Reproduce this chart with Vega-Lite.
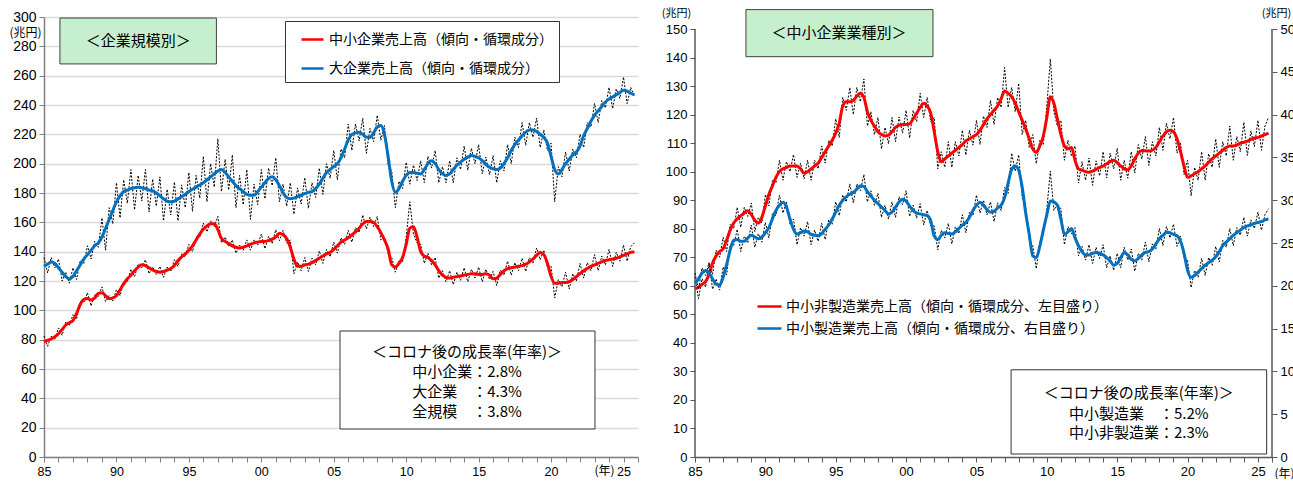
{
"$schema": "https://vega.github.io/schema/vega-lite/v6.json",
"background": "white",
"padding": {"left": 8, "top": 7, "right": 0, "bottom": 0},
"spacing": 20,
"config": {"view": {"stroke": null}, "font": "Liberation Sans", "axis": {"labelColor": "black", "titleColor": "black", "titleFontWeight": "normal", "tickSize": 5, "labelPadding": 3, "labelOverlap": false}},
"datasets": {"q": [
{"t":1985.0,"L":130,"Lr":136,"S":78.5,"Sr":82.5,"N":59,"Nr":63,"M":20.3,"Mr":21.5},
{"t":1985.25,"L":131.5,"Lr":125.5,"S":79.5,"Sr":75.5,"N":59.5,"Nr":55.5,"M":20.8,"Mr":19.6},
{"t":1985.5,"L":133,"Lr":136,"S":80.5,"Sr":82.5,"N":60.5,"Nr":62.5,"M":21.5,"Mr":22.1},
{"t":1985.75,"L":132,"Lr":129,"S":82,"Sr":80,"N":61.5,"Nr":59.5,"M":21.8,"Mr":21.2},
{"t":1986.0,"L":129,"Lr":135,"S":84,"Sr":88,"N":64,"Nr":68,"M":21.5,"Mr":22.7},
{"t":1986.25,"L":126,"Lr":120,"S":87,"Sr":83,"N":68,"Nr":64,"M":20.8,"Mr":19.6},
{"t":1986.5,"L":123,"Lr":126,"S":90,"Sr":92,"N":70.5,"Nr":72.5,"M":20.2,"Mr":20.8},
{"t":1986.75,"L":121.5,"Lr":118.5,"S":91.5,"Sr":89.5,"N":72,"Nr":70,"M":20.1,"Mr":19.5},
{"t":1987.0,"L":123,"Lr":129,"S":93,"Sr":97,"N":73,"Nr":77,"M":21,"Mr":22.2},
{"t":1987.25,"L":127,"Lr":121,"S":98,"Sr":94,"N":76,"Nr":72,"M":22.5,"Mr":21.3},
{"t":1987.5,"L":131,"Lr":134,"S":104,"Sr":106,"N":79.5,"Nr":81.5,"M":24.2,"Mr":24.8},
{"t":1987.75,"L":135,"Lr":132,"S":107.5,"Sr":105.5,"N":82,"Nr":80,"M":25.3,"Mr":24.7},
{"t":1988.0,"L":138,"Lr":144,"S":108,"Sr":112,"N":83.5,"Nr":87.5,"M":25.4,"Mr":26.6},
{"t":1988.25,"L":141,"Lr":135,"S":107,"Sr":103,"N":84.5,"Nr":80.5,"M":25.2,"Mr":24},
{"t":1988.5,"L":144,"Lr":147,"S":108.5,"Sr":110.5,"N":85.5,"Nr":87.5,"M":25.2,"Mr":25.8},
{"t":1988.75,"L":146,"Lr":143,"S":111.5,"Sr":109.5,"N":86.3,"Nr":84.3,"M":25.6,"Mr":25},
{"t":1989.0,"L":150,"Lr":163,"S":112,"Sr":116,"N":85,"Nr":89,"M":25.9,"Mr":27.1},
{"t":1989.25,"L":156,"Lr":141,"S":110,"Sr":106,"N":83,"Nr":79,"M":25.7,"Mr":24.5},
{"t":1989.5,"L":162,"Lr":170,"S":108,"Sr":110,"N":82,"Nr":84,"M":25.5,"Mr":26.1},
{"t":1989.75,"L":168,"Lr":159,"S":108.5,"Sr":106.5,"N":84,"Nr":82,"M":25.7,"Mr":25.1},
{"t":1990.0,"L":174,"Lr":187,"S":110,"Sr":114,"N":88,"Nr":92,"M":26.2,"Mr":27.4},
{"t":1990.25,"L":178,"Lr":163,"S":114,"Sr":110,"N":92,"Nr":88,"M":26.8,"Mr":25.6},
{"t":1990.5,"L":181,"Lr":189,"S":118,"Sr":120,"N":95,"Nr":97,"M":27.8,"Mr":28.4},
{"t":1990.75,"L":182,"Lr":173,"S":121.5,"Sr":119.5,"N":98,"Nr":96,"M":28.8,"Mr":28.2},
{"t":1991.0,"L":183,"Lr":196,"S":124,"Sr":128,"N":100,"Nr":104,"M":29.4,"Mr":30.6},
{"t":1991.25,"L":183.5,"Lr":168.5,"S":127,"Sr":123,"N":101,"Nr":97,"M":29.75,"Mr":28.5},
{"t":1991.5,"L":184,"Lr":192,"S":129.5,"Sr":131.5,"N":101.5,"Nr":103.5,"M":29.2,"Mr":29.8},
{"t":1991.75,"L":183.5,"Lr":174.5,"S":131,"Sr":129,"N":102,"Nr":100,"M":27.8,"Mr":27.2},
{"t":1992.0,"L":183,"Lr":196,"S":130.5,"Sr":134.5,"N":102,"Nr":106,"M":26.6,"Mr":27.8},
{"t":1992.25,"L":182,"Lr":167,"S":129,"Sr":125,"N":102,"Nr":98,"M":26.05,"Mr":24.8},
{"t":1992.5,"L":181.5,"Lr":189.5,"S":127.5,"Sr":129.5,"N":101,"Nr":103,"M":26.2,"Mr":26.8},
{"t":1992.75,"L":180,"Lr":171,"S":126.5,"Sr":124.5,"N":99.5,"Nr":97.5,"M":26.4,"Mr":25.8},
{"t":1993.0,"L":178,"Lr":191,"S":126,"Sr":130,"N":100,"Nr":104,"M":26.3,"Mr":27.5},
{"t":1993.25,"L":176,"Lr":161,"S":126.5,"Sr":122.5,"N":101,"Nr":97,"M":26,"Mr":24.8},
{"t":1993.5,"L":174.5,"Lr":182.5,"S":127.5,"Sr":129.5,"N":102,"Nr":104,"M":25.9,"Mr":26.5},
{"t":1993.75,"L":174,"Lr":165,"S":128.5,"Sr":126.5,"N":103,"Nr":101,"M":25.85,"Mr":25.2},
{"t":1994.0,"L":174.5,"Lr":187.5,"S":130.5,"Sr":134.5,"N":105,"Nr":109,"M":26.1,"Mr":27.3},
{"t":1994.25,"L":176,"Lr":161,"S":134,"Sr":130,"N":107,"Nr":103,"M":26.6,"Mr":25.4},
{"t":1994.5,"L":177.5,"Lr":185.5,"S":136.5,"Sr":138.5,"N":109,"Nr":111,"M":27.1,"Mr":27.7},
{"t":1994.75,"L":179,"Lr":170,"S":138.5,"Sr":136.5,"N":111,"Nr":109,"M":27.8,"Mr":27.2},
{"t":1995.0,"L":181,"Lr":194,"S":141,"Sr":145,"N":113.5,"Nr":118.5,"M":28.6,"Mr":29.8},
{"t":1995.25,"L":182.5,"Lr":167.5,"S":144,"Sr":140,"N":117,"Nr":112,"M":29.4,"Mr":28.2},
{"t":1995.5,"L":184,"Lr":192,"S":148,"Sr":150,"N":123,"Nr":126,"M":30,"Mr":30.6},
{"t":1995.75,"L":185.5,"Lr":176.5,"S":152,"Sr":150,"N":124.5,"Nr":121.5,"M":30.4,"Mr":29.8},
{"t":1996.0,"L":187,"Lr":205,"S":155.5,"Sr":159.5,"N":124.5,"Nr":129.5,"M":30.7,"Mr":31.9},
{"t":1996.25,"L":189,"Lr":174,"S":157.5,"Sr":153.5,"N":125,"Nr":120,"M":30.9,"Mr":29.7},
{"t":1996.5,"L":191,"Lr":200,"S":159,"Sr":161,"N":126.5,"Nr":129.5,"M":31.3,"Mr":31.9},
{"t":1996.75,"L":193,"Lr":184,"S":159,"Sr":157,"N":127.5,"Nr":124.5,"M":31.7,"Mr":31.1},
{"t":1997.0,"L":195,"Lr":217,"S":155,"Sr":164,"N":126,"Nr":132.5,"M":31.6,"Mr":33},
{"t":1997.25,"L":196,"Lr":181,"S":149,"Sr":146,"N":121,"Nr":116,"M":31,"Mr":29.8},
{"t":1997.5,"L":194,"Lr":203,"S":147,"Sr":150,"N":118,"Nr":121,"M":30.5,"Mr":31.1},
{"t":1997.75,"L":191,"Lr":182,"S":145.5,"Sr":143.5,"N":116,"Nr":113,"M":30,"Mr":29.4},
{"t":1998.0,"L":188,"Lr":206,"S":144,"Sr":148,"N":114,"Nr":119,"M":29.6,"Mr":30.8},
{"t":1998.25,"L":185,"Lr":170,"S":143,"Sr":139,"N":113,"Nr":108,"M":29.2,"Mr":28},
{"t":1998.5,"L":183,"Lr":192,"S":142.5,"Sr":144.5,"N":112.5,"Nr":115.5,"M":28.8,"Mr":29.4},
{"t":1998.75,"L":181,"Lr":172,"S":143,"Sr":141,"N":112.8,"Nr":109.8,"M":28.4,"Mr":27.8},
{"t":1999.0,"L":179,"Lr":196,"S":144,"Sr":148,"N":114,"Nr":119,"M":28.6,"Mr":29.8},
{"t":1999.25,"L":178.5,"Lr":162,"S":145,"Sr":141,"N":115.5,"Nr":110.5,"M":29.2,"Mr":28},
{"t":1999.5,"L":178.5,"Lr":186,"S":146,"Sr":148,"N":116.2,"Nr":119.2,"M":29.8,"Mr":30.4},
{"t":1999.75,"L":181,"Lr":172,"S":146.5,"Sr":144.5,"N":116.5,"Nr":113.5,"M":30.1,"Mr":29.5},
{"t":2000.0,"L":184,"Lr":196,"S":147,"Sr":152,"N":116.5,"Nr":121.5,"M":29.9,"Mr":31.1},
{"t":2000.25,"L":187,"Lr":176,"S":147,"Sr":142,"N":116.8,"Nr":111.8,"M":29.3,"Mr":28.1},
{"t":2000.5,"L":190,"Lr":197,"S":147.5,"Sr":150.5,"N":118.5,"Nr":121.5,"M":28.8,"Mr":29.4},
{"t":2000.75,"L":191,"Lr":185,"S":148.5,"Sr":145.5,"N":120.5,"Nr":117.5,"M":28.5,"Mr":27.9},
{"t":2001.0,"L":189,"Lr":204,"S":150,"Sr":155,"N":122.5,"Nr":127.5,"M":28.4,"Mr":29.6},
{"t":2001.25,"L":185,"Lr":174,"S":152.5,"Sr":147.5,"N":124,"Nr":119,"M":28.3,"Mr":27.1},
{"t":2001.5,"L":180,"Lr":186,"S":151.5,"Sr":154.5,"N":123,"Nr":126,"M":28.2,"Mr":28.8},
{"t":2001.75,"L":177,"Lr":171,"S":149,"Sr":146,"N":120.5,"Nr":117.5,"M":27.6,"Mr":27},
{"t":2002.0,"L":176,"Lr":187,"S":143,"Sr":148,"N":114,"Nr":119,"M":25.8,"Mr":27},
{"t":2002.25,"L":176.5,"Lr":165.5,"S":135,"Sr":125,"N":107,"Nr":101,"M":25.4,"Mr":24.2},
{"t":2002.5,"L":177.5,"Lr":183.5,"S":130,"Sr":133,"N":103.5,"Nr":107,"M":25.9,"Mr":26.5},
{"t":2002.75,"L":178.5,"Lr":172.5,"S":130,"Sr":127,"N":104.5,"Nr":101.5,"M":26.2,"Mr":25.6},
{"t":2003.0,"L":179.5,"Lr":190.5,"S":131,"Sr":136,"N":105.5,"Nr":110.5,"M":26.1,"Mr":27.3},
{"t":2003.25,"L":180.5,"Lr":169.5,"S":131.5,"Sr":126.5,"N":106.5,"Nr":101.5,"M":26.05,"Mr":24.9},
{"t":2003.5,"L":181,"Lr":187,"S":132.5,"Sr":135.5,"N":107.5,"Nr":110.5,"M":26.3,"Mr":26.9},
{"t":2003.75,"L":183,"Lr":177,"S":134,"Sr":131,"N":108.5,"Nr":105.5,"M":26.7,"Mr":26.1},
{"t":2004.0,"L":186,"Lr":197,"S":135.5,"Sr":140.5,"N":109.5,"Nr":114.5,"M":27.1,"Mr":28.3},
{"t":2004.25,"L":190,"Lr":179,"S":137,"Sr":132,"N":110.8,"Nr":105.8,"M":27.4,"Mr":26.2},
{"t":2004.5,"L":194,"Lr":200,"S":138.5,"Sr":141.5,"N":111.5,"Nr":114.5,"M":28,"Mr":28.6},
{"t":2004.75,"L":196,"Lr":190,"S":139.5,"Sr":136.5,"N":112.3,"Nr":109.3,"M":28.8,"Mr":28.2},
{"t":2005.0,"L":198,"Lr":209,"S":141.5,"Sr":146.5,"N":113,"Nr":118,"M":29.4,"Mr":30.6},
{"t":2005.25,"L":200,"Lr":189,"S":144,"Sr":139,"N":114.5,"Nr":109.5,"M":29.75,"Mr":28.5},
{"t":2005.5,"L":204,"Lr":210,"S":146.5,"Sr":149.5,"N":116.5,"Nr":119.5,"M":29.4,"Mr":30},
{"t":2005.75,"L":210,"Lr":204,"S":148,"Sr":145,"N":118.5,"Nr":115.5,"M":28.9,"Mr":28.3},
{"t":2006.0,"L":216,"Lr":227,"S":149.5,"Sr":154.5,"N":120,"Nr":125,"M":28.6,"Mr":29.8},
{"t":2006.25,"L":220,"Lr":209,"S":151.5,"Sr":146.5,"N":121.5,"Nr":116.5,"M":28.7,"Mr":27.5},
{"t":2006.5,"L":221,"Lr":227,"S":153.5,"Sr":156.5,"N":123,"Nr":126,"M":29.1,"Mr":29.7},
{"t":2006.75,"L":221.5,"Lr":215.5,"S":156,"Sr":153,"N":125.5,"Nr":122.5,"M":29.4,"Mr":28.8},
{"t":2007.0,"L":220,"Lr":231,"S":159,"Sr":165,"N":128.3,"Nr":136.5,"M":30.3,"Mr":31.5},
{"t":2007.25,"L":218,"Lr":207,"S":160.5,"Sr":155.5,"N":127.5,"Nr":122.5,"M":32,"Mr":30.8},
{"t":2007.5,"L":218,"Lr":224,"S":160.5,"Sr":163.5,"N":126.3,"Nr":129.5,"M":33.6,"Mr":35.5},
{"t":2007.75,"L":221,"Lr":215,"S":160,"Sr":157,"N":124,"Nr":121,"M":34,"Mr":33.4},
{"t":2008.0,"L":225,"Lr":233,"S":157,"Sr":164,"N":121,"Nr":131,"M":33.5,"Mr":35.3},
{"t":2008.25,"L":226,"Lr":216,"S":153,"Sr":148,"N":118,"Nr":113,"M":31.5,"Mr":30.3},
{"t":2008.5,"L":220,"Lr":226,"S":148,"Sr":150,"N":115,"Nr":118,"M":28.5,"Mr":29.1},
{"t":2008.75,"L":205,"Lr":199,"S":142,"Sr":139,"N":111.5,"Nr":108.5,"M":26,"Mr":25.4},
{"t":2009.0,"L":188,"Lr":195,"S":131,"Sr":136,"N":108,"Nr":113,"M":23.5,"Mr":24.7},
{"t":2009.25,"L":180.5,"Lr":170,"S":129.5,"Sr":126,"N":106.8,"Nr":102.8,"M":23.3,"Mr":22},
{"t":2009.5,"L":183,"Lr":188,"S":132,"Sr":134,"N":109,"Nr":111,"M":24.6,"Mr":25.2},
{"t":2009.75,"L":188,"Lr":183,"S":136,"Sr":133,"N":112.5,"Nr":109.5,"M":26.5,"Mr":25.9},
{"t":2010.0,"L":192,"Lr":201,"S":145,"Sr":150,"N":119,"Nr":123,"M":28.3,"Mr":29},
{"t":2010.25,"L":194,"Lr":186,"S":156,"Sr":174,"N":126.3,"Nr":139.5,"M":29.9,"Mr":33.4},
{"t":2010.5,"L":194,"Lr":199,"S":157,"Sr":152,"N":124,"Nr":121,"M":29.8,"Mr":28.8},
{"t":2010.75,"L":193.5,"Lr":188.5,"S":150,"Sr":146,"N":118.5,"Nr":116,"M":29.4,"Mr":29.6},
{"t":2011.0,"L":193,"Lr":202,"S":140,"Sr":145,"N":113,"Nr":118,"M":27.8,"Mr":29},
{"t":2011.25,"L":196,"Lr":187,"S":137,"Sr":132,"N":109,"Nr":104,"M":26,"Mr":24.8},
{"t":2011.5,"L":200,"Lr":205,"S":136,"Sr":139,"N":108,"Nr":111,"M":26.3,"Mr":26.9},
{"t":2011.75,"L":202,"Lr":197,"S":134,"Sr":131,"N":108.5,"Nr":105.5,"M":26.7,"Mr":26.1},
{"t":2012.0,"L":200,"Lr":209,"S":131,"Sr":136,"N":104,"Nr":109,"M":25.6,"Mr":26.8},
{"t":2012.25,"L":196,"Lr":187,"S":127,"Sr":122,"N":101,"Nr":96,"M":24.7,"Mr":23.5},
{"t":2012.5,"L":193,"Lr":198,"S":124,"Sr":127,"N":100.5,"Nr":103.5,"M":24,"Mr":24.6},
{"t":2012.75,"L":192,"Lr":187,"S":122.5,"Sr":119.5,"N":100,"Nr":97,"M":23.6,"Mr":23},
{"t":2013.0,"L":193,"Lr":202,"S":122,"Sr":127,"N":99.8,"Nr":104.8,"M":23.6,"Mr":24.8},
{"t":2013.25,"L":196,"Lr":187,"S":122.5,"Sr":117.5,"N":100.2,"Nr":95.2,"M":23.8,"Mr":22.6},
{"t":2013.5,"L":199,"Lr":204,"S":123,"Sr":126,"N":100.8,"Nr":103.8,"M":23.9,"Mr":24.5},
{"t":2013.75,"L":201,"Lr":196,"S":123.5,"Sr":120.5,"N":101.5,"Nr":98.5,"M":23.8,"Mr":23.2},
{"t":2014.0,"L":203,"Lr":212,"S":124,"Sr":129,"N":102,"Nr":107,"M":23.6,"Mr":24.8},
{"t":2014.25,"L":204.5,"Lr":195.5,"S":124.5,"Sr":119.5,"N":102.8,"Nr":97.8,"M":23.3,"Mr":22.1},
{"t":2014.5,"L":205.5,"Lr":210.5,"S":125,"Sr":128,"N":103.5,"Nr":106.5,"M":22.9,"Mr":23.5},
{"t":2014.75,"L":205,"Lr":200,"S":125,"Sr":122,"N":104,"Nr":101,"M":22.4,"Mr":21.8},
{"t":2015.0,"L":204,"Lr":213,"S":124.5,"Sr":129.5,"N":103.2,"Nr":108.2,"M":22.6,"Mr":23.8},
{"t":2015.25,"L":202,"Lr":193,"S":124.5,"Sr":119.5,"N":102,"Nr":97,"M":23.3,"Mr":22.1},
{"t":2015.5,"L":199.5,"Lr":204.5,"S":125,"Sr":128,"N":101,"Nr":104,"M":23.9,"Mr":24.5},
{"t":2015.75,"L":197.5,"Lr":192.5,"S":124,"Sr":121,"N":100.7,"Nr":97.7,"M":23.6,"Mr":23},
{"t":2016.0,"L":196.5,"Lr":205.5,"S":121.5,"Sr":126.5,"N":102,"Nr":107,"M":23.1,"Mr":24.3},
{"t":2016.25,"L":196,"Lr":187,"S":122,"Sr":117,"N":104.5,"Nr":99.5,"M":22.9,"Mr":21.7},
{"t":2016.5,"L":197,"Lr":202,"S":124.5,"Sr":127.5,"N":106.5,"Nr":109.5,"M":23.2,"Mr":23.8},
{"t":2016.75,"L":200,"Lr":195,"S":127,"Sr":124,"N":107.4,"Nr":104.4,"M":23.6,"Mr":23},
{"t":2017.0,"L":204,"Lr":213,"S":128.5,"Sr":133.5,"N":107.3,"Nr":112.3,"M":23.9,"Mr":25.1},
{"t":2017.25,"L":209,"Lr":200,"S":129,"Sr":124,"N":107.2,"Nr":102.2,"M":24,"Mr":22.8},
{"t":2017.5,"L":213,"Lr":218,"S":129.5,"Sr":132.5,"N":107.5,"Nr":110.5,"M":24.3,"Mr":24.9},
{"t":2017.75,"L":216,"Lr":211,"S":130,"Sr":127,"N":108.5,"Nr":105.5,"M":24.9,"Mr":24.3},
{"t":2018.0,"L":219,"Lr":228,"S":130.5,"Sr":135.5,"N":110.5,"Nr":115.5,"M":25.5,"Mr":26.7},
{"t":2018.25,"L":221.5,"Lr":212.5,"S":131.5,"Sr":126.5,"N":112.5,"Nr":107.5,"M":25.9,"Mr":24.7},
{"t":2018.5,"L":223,"Lr":228,"S":133,"Sr":136,"N":114,"Nr":117,"M":26.25,"Mr":26.9},
{"t":2018.75,"L":223,"Lr":218,"S":135,"Sr":132,"N":114.5,"Nr":111.5,"M":26.2,"Mr":25.6},
{"t":2019.0,"L":222,"Lr":231,"S":137.5,"Sr":142.5,"N":114,"Nr":119,"M":26,"Mr":27.2},
{"t":2019.25,"L":220,"Lr":211,"S":139.5,"Sr":134.5,"N":111.5,"Nr":106.5,"M":25.85,"Mr":24.6},
{"t":2019.5,"L":218,"Lr":223,"S":138,"Sr":141,"N":107,"Nr":110,"M":25.2,"Mr":25.8},
{"t":2019.75,"L":214,"Lr":209,"S":132,"Sr":129,"N":102,"Nr":99,"M":23.8,"Mr":23.2},
{"t":2020.0,"L":205,"Lr":214,"S":123,"Sr":130,"N":98,"Nr":104,"M":21.8,"Mr":23},
{"t":2020.25,"L":196,"Lr":174,"S":118.5,"Sr":108.5,"N":98.5,"Nr":91.5,"M":21,"Mr":19.8},
{"t":2020.5,"L":193,"Lr":198,"S":118.5,"Sr":121,"N":99.3,"Nr":101.5,"M":21.2,"Mr":21.8},
{"t":2020.75,"L":196,"Lr":191,"S":119,"Sr":116,"N":100,"Nr":97,"M":21.6,"Mr":21},
{"t":2021.0,"L":200,"Lr":208,"S":119,"Sr":126,"N":101,"Nr":107,"M":22,"Mr":23.2},
{"t":2021.25,"L":203,"Lr":195,"S":119.5,"Sr":114.5,"N":102,"Nr":97,"M":22.4,"Mr":21.2},
{"t":2021.5,"L":206,"Lr":210,"S":121,"Sr":125,"N":103.3,"Nr":106.3,"M":22.7,"Mr":23.3},
{"t":2021.75,"L":208,"Lr":204,"S":123,"Sr":120,"N":104.5,"Nr":101.5,"M":23,"Mr":22.4},
{"t":2022.0,"L":212,"Lr":220,"S":125,"Sr":132,"N":105.5,"Nr":111.5,"M":23.4,"Mr":24.6},
{"t":2022.25,"L":219,"Lr":211,"S":127,"Sr":122,"N":106.5,"Nr":101.5,"M":24,"Mr":22.8},
{"t":2022.5,"L":224,"Lr":228,"S":128.5,"Sr":132.5,"N":107.5,"Nr":110.5,"M":24.7,"Mr":25.3},
{"t":2022.75,"L":229,"Lr":225,"S":130,"Sr":127,"N":108.5,"Nr":105.5,"M":25.1,"Mr":24.5},
{"t":2023.0,"L":233,"Lr":241,"S":131,"Sr":138,"N":109,"Nr":116,"M":25.5,"Mr":26.7},
{"t":2023.25,"L":236,"Lr":228,"S":132,"Sr":127,"N":109,"Nr":104,"M":25.9,"Mr":24.7},
{"t":2023.5,"L":239,"Lr":243,"S":133,"Sr":137,"N":109.3,"Nr":112.3,"M":26.2,"Mr":26.8},
{"t":2023.75,"L":242,"Lr":238,"S":134,"Sr":131,"N":110,"Nr":107,"M":26.5,"Mr":25.9},
{"t":2024.0,"L":244,"Lr":252,"S":134.5,"Sr":141.5,"N":110.3,"Nr":117.3,"M":26.8,"Mr":28},
{"t":2024.25,"L":245.5,"Lr":237.5,"S":135,"Sr":130,"N":110.7,"Nr":105.7,"M":27,"Mr":25.8},
{"t":2024.5,"L":247,"Lr":251,"S":135.5,"Sr":139.5,"N":111.3,"Nr":114.3,"M":27.1,"Mr":27.7},
{"t":2024.75,"L":248.5,"Lr":244.5,"S":136.5,"Sr":133.5,"N":111.8,"Nr":108.8,"M":27.3,"Mr":26.7},
{"t":2025.0,"L":250,"Lr":259,"S":137.5,"Sr":144.5,"N":112,"Nr":118,"M":27.4,"Mr":28.6},
{"t":2025.25,"L":249.5,"Lr":241,"S":138.5,"Sr":133.5,"N":112.5,"Nr":107.5,"M":27.5,"Mr":26.5},
{"t":2025.5,"L":248,"Lr":252,"S":139.5,"Sr":143.5,"N":113,"Nr":116,"M":27.7,"Mr":28.3},
{"t":2025.75,"L":247,"Lr":246,"S":140,"Sr":146,"N":113.5,"Nr":119,"M":27.8,"Mr":29}
]},
"resolve": {"scale": {"color": "independent"}, "legend": {"color": "independent"}},
"hconcat": [
{
"width": 594, "height": 440,
"layer": [
{"data": {"name": "q"}, "mark": {"type": "line", "color": "#000000", "strokeWidth": 1, "strokeDash": [2, 1.5]},
 "encoding": {
  "x": {"field": "t", "type": "quantitative", "scale": {"domain": [1985, 2026], "nice": false, "zero": false},
   "axis": {"values": [1985,1986,1987,1988,1989,1990,1991,1992,1993,1994,1995,1996,1997,1998,1999,2000,2001,2002,2003,2004,2005,2006,2007,2008,2009,2010,2011,2012,2013,2014,2015,2016,2017,2018,2019,2020,2021,2022,2023,2024,2025,2026], "tickCount": 100,
    "labelExpr": "datum.value % 5 == 0 ? substring(toString(datum.value), 2, 4) : ''", "labelOverlap": false, "labelFlush": false, "labelFontSize": 12.5, "grid": false,
    "domainColor": "#808080", "domainWidth": 1.5, "tickColor": "#808080", "tickWidth": 1,
    "title": "(年)", "titleFont": "Noto Sans CJK JP", "titleFontSize": 12, "titleAngle": 0, "titleAlign": "center", "titleBaseline": "middle", "titleX": 560, "titleY": 13}},
  "y": {"field": "Lr", "type": "quantitative", "scale": {"domain": [0, 300], "nice": false},
   "axis": {"values": [0,20,40,60,80,100,120,140,160,180,200,220,240,260,280,300], "tickCount": 100, "format": "d", "labelOverlap": false, "grid": true, "gridColor": "#d9d9d9", "gridWidth": 1.5, "labelFontSize": 14,
    "domainColor": "#808080", "domainWidth": 1.5, "tickColor": "#808080",
    "title": "(兆円)", "titleFont": "Noto Sans CJK JP", "titleFontSize": 12, "titleAngle": 0, "titleAlign": "center", "titleBaseline": "middle", "titleX": -19, "titleY": 15}}
 }},
{"data": {"name": "q"}, "mark": {"type": "line", "color": "#000000", "strokeWidth": 1, "strokeDash": [2, 1.5]},
 "encoding": {"x": {"field": "t", "type": "quantitative"}, "y": {"field": "Sr", "type": "quantitative"}}},
{"data": {"name": "q"}, "mark": {"type": "line", "strokeWidth": 3, "interpolate": "monotone"},
 "encoding": {"x": {"field": "t", "type": "quantitative"}, "y": {"field": "L", "type": "quantitative"},
  "color": {"datum": "大企業売上高（傾向・循環成分）", "type": "nominal",
   "scale": {"domain": ["中小企業売上高（傾向・循環成分）", "大企業売上高（傾向・循環成分）"], "range": ["#ff0000", "#0070c0"]},
   "legend": {"title": null, "orient": "none", "legendX": 241, "legendY": 4, "symbolType": "stroke", "symbolStrokeWidth": 2.5, "symbolSize": 484,
    "labelFont": "Noto Sans CJK JP", "labelFontSize": 14, "labelColor": "black", "strokeColor": "#333333", "fillColor": "white",
    "padding": 6, "symbolOffset": 9, "rowPadding": 9, "labelOffset": 4, "labelLimit": 500}}}},
{"data": {"name": "q"}, "mark": {"type": "line", "strokeWidth": 3, "interpolate": "monotone"},
 "encoding": {"x": {"field": "t", "type": "quantitative"}, "y": {"field": "S", "type": "quantitative"},
  "color": {"datum": "中小企業売上高（傾向・循環成分）", "type": "nominal"}}},
{"data": {"values": [{}]}, "mark": {"type": "rect", "fill": "#c6efce", "stroke": "#404040", "strokeWidth": 1},
 "encoding": {"x": {"datum": 1986.1, "type": "quantitative"}, "x2": {"datum": 1996.9}, "y": {"datum": 299.3, "type": "quantitative"}, "y2": {"datum": 268}}},
{"data": {"values": [{}]}, "mark": {"type": "text", "font": "Noto Sans CJK JP", "fontSize": 15, "align": "center", "baseline": "middle", "color": "black"},
 "encoding": {"x": {"datum": 1991.5, "type": "quantitative"}, "y": {"datum": 283.6, "type": "quantitative"}, "text": {"value": "＜企業規模別＞"}}},
{"data": {"values": [{}]}, "mark": {"type": "rect", "fill": "white", "stroke": "#333333", "strokeWidth": 1},
 "encoding": {"x": {"datum": 2005.43, "type": "quantitative"}, "x2": {"datum": 2023.03}, "y": {"datum": 85.9, "type": "quantitative"}, "y2": {"datum": 19.1}}},
{"data": {"values": [{}]}, "mark": {"type": "text", "font": "Noto Sans CJK JP", "fontSize": 15, "align": "center", "baseline": "middle", "color": "black"},
 "encoding": {"x": {"datum": 2014.2, "type": "quantitative"}, "y": {"datum": 71.8, "type": "quantitative"}, "text": {"value": "＜コロナ後の成長率(年率)＞"}}},
{"data": {"values": [{}]}, "mark": {"type": "text", "font": "Noto Sans CJK JP", "fontSize": 15, "align": "center", "baseline": "middle", "color": "black"},
 "encoding": {"x": {"datum": 2014.2, "type": "quantitative"}, "y": {"datum": 58.2, "type": "quantitative"}, "text": {"value": "中小企業：2.8%"}}},
{"data": {"values": [{}]}, "mark": {"type": "text", "font": "Noto Sans CJK JP", "fontSize": 15, "align": "center", "baseline": "middle", "color": "black"},
 "encoding": {"x": {"datum": 2014.2, "type": "quantitative"}, "y": {"datum": 44.5, "type": "quantitative"}, "text": {"value": "大企業　：4.3%"}}},
{"data": {"values": [{}]}, "mark": {"type": "text", "font": "Noto Sans CJK JP", "fontSize": 15, "align": "center", "baseline": "middle", "color": "black"},
 "encoding": {"x": {"datum": 2014.2, "type": "quantitative"}, "y": {"datum": 30.9, "type": "quantitative"}, "text": {"value": "全規模　：3.8%"}}}
]
},
{
"width": 577, "height": 440,
"resolve": {"scale": {"y": "independent"}},
"layer": [
{"layer": [
{"data": {"name": "q"}, "mark": {"type": "line", "color": "#000000", "strokeWidth": 1, "strokeDash": [2, 1.5]},
 "encoding": {
  "x": {"field": "t", "type": "quantitative", "scale": {"domain": [1985, 2026], "nice": false, "zero": false},
   "axis": {"values": [1985,1986,1987,1988,1989,1990,1991,1992,1993,1994,1995,1996,1997,1998,1999,2000,2001,2002,2003,2004,2005,2006,2007,2008,2009,2010,2011,2012,2013,2014,2015,2016,2017,2018,2019,2020,2021,2022,2023,2024,2025,2026], "tickCount": 100,
    "labelExpr": "datum.value % 5 == 0 ? substring(toString(datum.value), 2, 4) : ''", "labelOverlap": false, "labelFlush": false, "labelFontSize": 13, "grid": false,
    "domainColor": "#595959", "domainWidth": 1.5, "tickColor": "#595959",
    "title": "(年)", "titleFont": "Noto Sans CJK JP", "titleFontSize": 12, "titleAngle": 0, "titleAlign": "center", "titleBaseline": "middle", "titleX": 589, "titleY": 16}},
  "y": {"field": "Nr", "type": "quantitative", "scale": {"domain": [0, 154.206], "nice": false},
   "axis": {"orient": "left", "values": [0,10,20,30,40,50,60,70,80,90,100,110,120,130,140,150], "tickCount": 100, "format": "d", "labelOverlap": false, "grid": false, "labelFontSize": 13,
    "domain": false, "tickColor": "#595959",
    "title": "(兆円)", "titleFont": "Noto Sans CJK JP", "titleFontSize": 11, "titleAngle": 0, "titleAlign": "center", "titleBaseline": "middle", "titleX": -19, "titleY": -4}}
 }},
{"data": {"name": "q"}, "mark": {"type": "line", "strokeWidth": 3, "interpolate": "monotone"},
 "encoding": {"x": {"field": "t", "type": "quantitative"}, "y": {"field": "N", "type": "quantitative"},
  "color": {"datum": "中小非製造業売上高（傾向・循環成分、左目盛り）", "type": "nominal",
   "scale": {"domain": ["中小非製造業売上高（傾向・循環成分、左目盛り）", "中小製造業売上高（傾向・循環成分、右目盛り）"], "range": ["#ff0000", "#0070c0"]},
   "legend": {"title": null, "orient": "none", "legendX": 61, "legendY": 276, "symbolType": "stroke", "symbolStrokeWidth": 2.5, "symbolSize": 576,
    "labelFont": "Noto Sans CJK JP", "labelFontSize": 14, "labelColor": "black", "padding": 0, "rowPadding": 1, "labelOffset": 3, "labelLimit": 600}}}},
{"data": {"values": [{}]}, "mark": {"type": "rule", "color": "#595959", "strokeWidth": 1.5},
 "encoding": {"x": {"datum": 1985, "type": "quantitative"}, "y": {"datum": 0, "type": "quantitative"}, "y2": {"datum": 150}}},
{"data": {"values": [{}]}, "mark": {"type": "rule", "color": "#595959", "strokeWidth": 1.5},
 "encoding": {"x": {"datum": 2026, "type": "quantitative"}, "y": {"datum": 0, "type": "quantitative"}, "y2": {"datum": 150}}},
{"data": {"values": [{}]}, "mark": {"type": "rect", "fill": "#c6efce", "stroke": "#404040", "strokeWidth": 1},
 "encoding": {"x": {"datum": 1988.62, "type": "quantitative"}, "x2": {"datum": 2001.91}, "y": {"datum": 156.8, "type": "quantitative"}, "y2": {"datum": 140.3}}},
{"data": {"values": [{}]}, "mark": {"type": "text", "font": "Noto Sans CJK JP", "fontSize": 15, "align": "center", "baseline": "middle", "color": "black"},
 "encoding": {"x": {"datum": 1995.23, "type": "quantitative"}, "y": {"datum": 148.6, "type": "quantitative"}, "text": {"value": "＜中小企業業種別＞"}}},
{"data": {"values": [{}]}, "mark": {"type": "rect", "fill": "white", "stroke": "#333333", "strokeWidth": 1},
 "encoding": {"x": {"datum": 2007.46, "type": "quantitative"}, "x2": {"datum": 2025.62}, "y": {"datum": 30.56, "type": "quantitative"}, "y2": {"datum": 1.05}}},
{"data": {"values": [{}]}, "mark": {"type": "text", "font": "Noto Sans CJK JP", "fontSize": 15, "align": "center", "baseline": "middle", "color": "black"},
 "encoding": {"x": {"datum": 2016.53, "type": "quantitative"}, "y": {"datum": 22.57, "type": "quantitative"}, "text": {"value": "＜コロナ後の成長率(年率)＞"}}},
{"data": {"values": [{}]}, "mark": {"type": "text", "font": "Noto Sans CJK JP", "fontSize": 15, "align": "center", "baseline": "middle", "color": "black"},
 "encoding": {"x": {"datum": 2016.53, "type": "quantitative"}, "y": {"datum": 15.07, "type": "quantitative"}, "text": {"value": "中小製造業　：5.2%"}}},
{"data": {"values": [{}]}, "mark": {"type": "text", "font": "Noto Sans CJK JP", "fontSize": 15, "align": "center", "baseline": "middle", "color": "black"},
 "encoding": {"x": {"datum": 2016.53, "type": "quantitative"}, "y": {"datum": 8.41, "type": "quantitative"}, "text": {"value": "中小非製造業：2.3%"}}}
]},
{"layer": [
{"data": {"name": "q"}, "mark": {"type": "line", "color": "#000000", "strokeWidth": 1, "strokeDash": [2, 1.5]},
 "encoding": {"x": {"field": "t", "type": "quantitative"},
  "y": {"field": "Mr", "type": "quantitative", "scale": {"domain": [0, 51.402], "nice": false},
   "axis": {"orient": "right", "values": [0,5,10,15,20,25,30,35,40,45,50], "tickCount": 100, "format": "d", "labelOverlap": false, "grid": false, "labelFontSize": 13,
    "domain": false, "tickColor": "#595959",
    "title": "(兆円)", "titleFont": "Noto Sans CJK JP", "titleFontSize": 11, "titleAngle": 0, "titleAlign": "center", "titleBaseline": "middle", "titleX": 4, "titleY": -4}}}},
{"data": {"name": "q"}, "mark": {"type": "line", "strokeWidth": 3, "interpolate": "monotone"},
 "encoding": {"x": {"field": "t", "type": "quantitative"}, "y": {"field": "M", "type": "quantitative"},
  "color": {"datum": "中小製造業売上高（傾向・循環成分、右目盛り）", "type": "nominal"}}}
]}
]
}
]
}
